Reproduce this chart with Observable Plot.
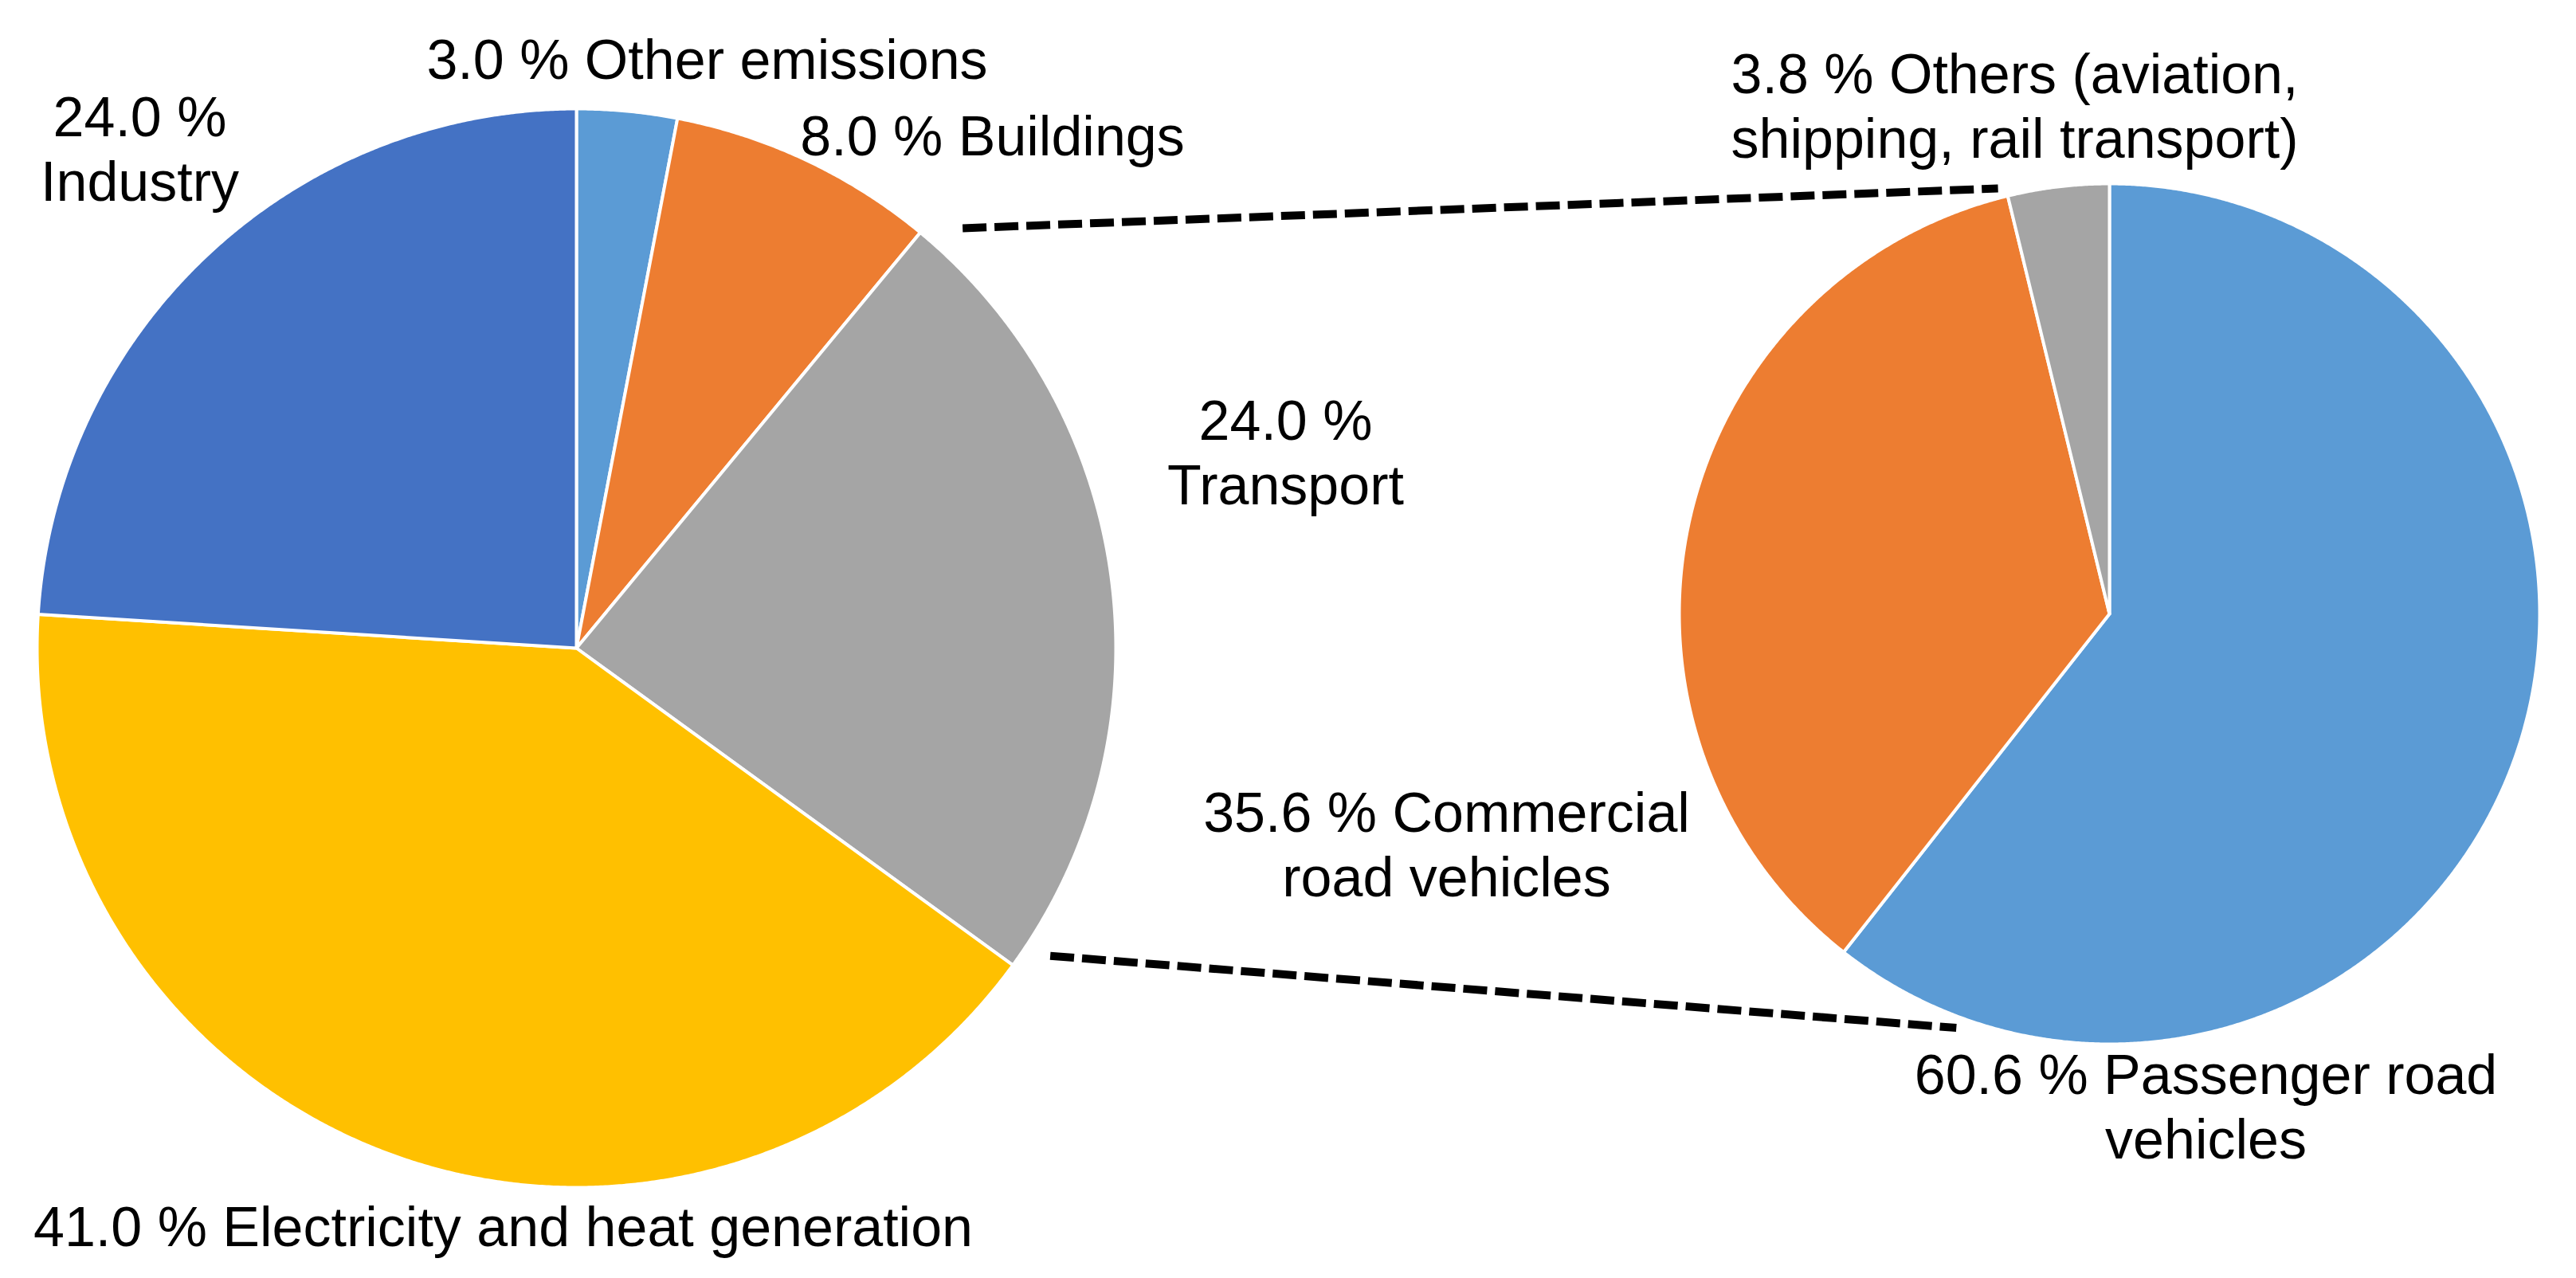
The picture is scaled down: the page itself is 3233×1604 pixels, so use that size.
<!DOCTYPE html>
<html>
<head>
<meta charset="utf-8">
<script src="https://cdn.jsdelivr.net/npm/d3@7"></script>
<script src="https://cdn.jsdelivr.net/npm/@observablehq/plot@0.6"></script>
<style>
  html, body { margin: 0; padding: 0; background: #ffffff; }
  #chart svg { display: block; }
</style>
</head>
<body>
<div id="chart"></div>
<script>
// ---------- DATA ----------
const sectorNames = ["Other emissions", "Buildings", "Transport", "Electricity and heat generation", "Industry"];
const sectorShares = [3.0, 8.0, 24.0, 41.0, 24.0];
const sectorLabels = ["3.0 % Other emissions", "8.0 % Buildings", "24.0 %\nTransport", "41.0 % Electricity and heat generation", "24.0 %\nIndustry"];

const transportNames = ["Passenger road vehicles", "Commercial road vehicles", "Others (aviation, shipping, rail transport)"];
const transportShares = [60.6, 35.6, 3.8];
const transportLabels = ["60.6 % Passenger road\nvehicles", "35.6 % Commercial\nroad vehicles", "3.8 % Others (aviation,\nshipping, rail transport)"];

// ---------- STYLE / LAYOUT ----------
const sectorColors = ["#5B9BD5", "#ED7D31", "#A5A5A5", "#FFC000", "#4472C4"];
const transportColors = ["#5B9BD5", "#ED7D31", "#A5A5A5"];
const W = 3233, H = 1604;
const FONT = 70, LINE_H = 81 / 70;
const leftPie = {cx: 723, cy: 813, r: 677};
const rightPie = {cx: 2647, cy: 770, r: 540};
const sectorLabelPos = [
  {x: 887, y: 98}, {x: 1245, y: 194}, {x: 1613, y: 632}, {x: 631, y: 1563}, {x: 175, y: 251}
];
const transportLabelPos = [
  {x: 2768, y: 1453}, {x: 1815, y: 1124}, {x: 2528, y: 197}
];
const deg = Math.PI / 180;

// ---------- GEOMETRY FROM DATA ----------
const polar = (p, r, a) => ({x: p.cx + r * Math.sin(a), y: p.cy - r * Math.cos(a)});

function pieSlices(names, shares, colors, pie) {
  const arcs = d3.pie().sort(null).value(d => d)(shares);
  const pts = [];
  arcs.forEach((a, i) => {
    const key = names[i] + "|" + pie.cx;
    const n = Math.max(2, Math.ceil((a.endAngle - a.startAngle) / (0.25 * deg)));
    pts.push({key, color: colors[i], x: pie.cx, y: pie.cy});
    for (let k = 0; k <= n; k++) {
      const t = a.startAngle + (a.endAngle - a.startAngle) * k / n;
      const p = polar(pie, pie.r, t);
      pts.push({key, color: colors[i], x: p.x, y: p.y});
    }
    pts.push({key, color: colors[i], x: pie.cx, y: pie.cy});
  });
  return {arcs, pts};
}

const left = pieSlices(sectorNames, sectorShares, sectorColors, leftPie);
const right = pieSlices(transportNames, transportShares, transportColors, rightPie);

const transportArc = left.arcs[sectorNames.indexOf("Transport")];
const othersArc = right.arcs[2];
const connectors = [
  {a: polar(leftPie, leftPie.r + 39, transportArc.startAngle + 3 * deg),
   b: polar(rightPie, rightPie.r + 12, othersArc.startAngle - 1 * deg)},
  {a: polar(leftPie, leftPie.r + 32, transportArc.endAngle - 3 * deg),
   b: polar(rightPie, rightPie.r + 14, 200.3 * deg)}
];

const labels = [
  ...sectorLabels.map((t, i) => ({text: t, ...sectorLabelPos[i]})),
  ...transportLabels.map((t, i) => ({text: t, ...transportLabelPos[i]}))
];

// ---------- PLOT ----------
const chart = Plot.plot({
  width: W,
  height: H,
  margin: 0,
  x: {domain: [0, W], range: [0, W], axis: null},
  y: {domain: [0, H], range: [0, H], axis: null},
  color: {type: "identity"},
  style: {fontFamily: "'Liberation Sans', Arial, sans-serif", background: "#ffffff"},
  marks: [
    Plot.line(left.pts, {x: "x", y: "y", z: "key", fill: "color", stroke: "#ffffff", strokeWidth: 4, strokeLinejoin: "round", curve: "linear"}),
    Plot.line(right.pts, {x: "x", y: "y", z: "key", fill: "color", stroke: "#ffffff", strokeWidth: 4, strokeLinejoin: "round", curve: "linear"}),
    Plot.link(connectors, {x1: d => d.a.x, y1: d => d.a.y, x2: d => d.b.x, y2: d => d.b.y,
      stroke: "#000000", strokeWidth: 10, strokeDasharray: "30,10", strokeOpacity: 1}),
    Plot.text(labels, {x: "x", y: "y", text: "text", textAnchor: "middle", lineAnchor: "bottom",
      lineHeight: LINE_H, fontSize: FONT, fill: "#000000"})
  ]
});
document.getElementById("chart").appendChild(chart);
</script>
</body>
</html>
